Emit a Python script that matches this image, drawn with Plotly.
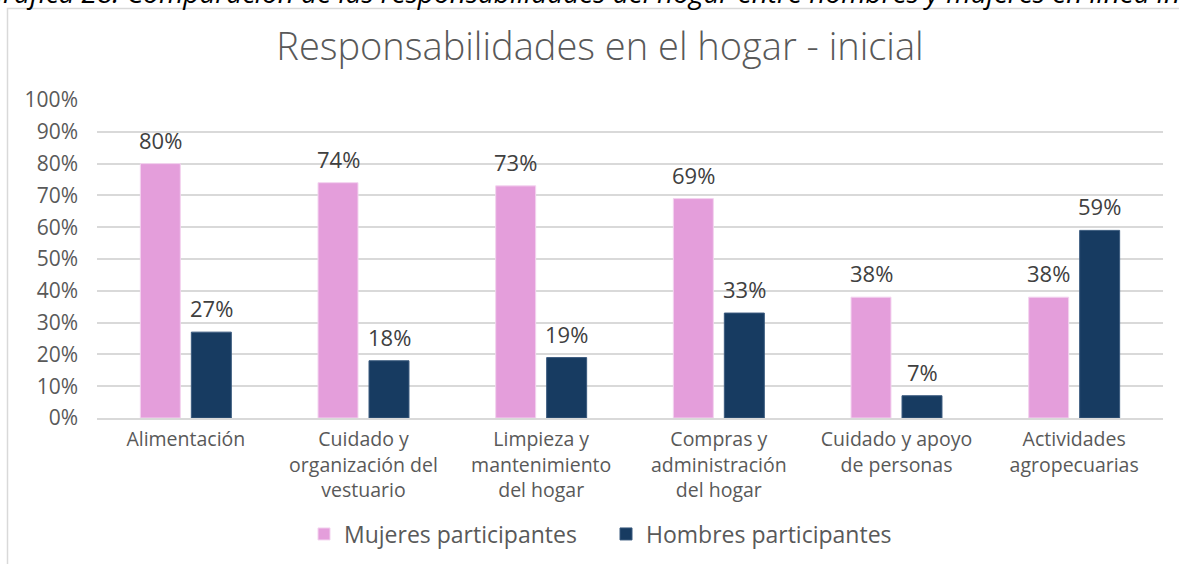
import plotly.graph_objects as go

categories = ["Alimentación", "Cuidado y<br>organización del<br>vestuario", "Limpieza y<br>mantenimiento<br>del hogar",
              "Compras y<br>administración<br>del hogar", "Cuidado y apoyo<br>de personas", "Actividades<br>agropecuarias"]
mujeres = [80, 74, 73, 69, 38, 38]
hombres = [27, 18, 19, 33, 7, 59]
series_names = ["Mujeres participantes", "Hombres participantes"]
y_ticks = [0, 10, 20, 30, 40, 50, 60, 70, 80, 90, 100]

PINK = "#E49EDB"
NAVY = "#173B61"
FONT = "'Open Sans', sans-serif"
GRAY = "#595959"

# body margin removed via post_script, so figure coordinates = page coordinates
W, H = 1179, 564
PX0, PX1, PY0, PY1 = 97, 1163, 100, 418  # plot area in px


def px(xp):  # page x -> paper x
    return (xp - PX0) / (PX1 - PX0)


def py(yp):  # page y -> paper y
    return (PY1 - yp) / (PY1 - PY0)


fig = go.Figure()
fig.add_trace(go.Bar(x=categories, y=mujeres, name=series_names[0], marker=dict(color=PINK, line=dict(color="#F3D3EF", width=1))))
fig.add_trace(go.Bar(x=categories, y=hombres, name=series_names[1], marker=dict(color=NAVY, line=dict(color="#3A5A7E", width=1))))

annotations = []
for vals, shift in ((mujeres, -25.5), (hombres, 25.5)):
    for c, v in zip(categories, vals):
        annotations.append(dict(x=c, y=v, xref="x", yref="y", text=f"{v}%", showarrow=False,
                                xshift=shift, yshift=24, yanchor="middle",
                                font=dict(family=FONT, size=22, color="#404040")))

# clipped caption at top
annotations.append(dict(xref="paper", yref="paper", x=px(-18), y=py(13),
                        xanchor="left", yanchor="bottom", showarrow=False,
                        text="<i>Gráfica 28. Comparación de las responsabilidades del hogar entre hombres y mujeres en línea inicial</i>",
                        font=dict(family="'Open Sans', sans-serif", size=28, color="#000000")))

fig.update_layout(
    width=W, height=H,
    margin=dict(l=PX0, r=W - PX1, t=PY0, b=H - PY1, autoexpand=False),
    paper_bgcolor="white", plot_bgcolor="white",
    barmode="group", bargap=0.426, bargroupgap=0.216,
    title=dict(text="Responsabilidades en el hogar - inicial", x=600 / W, xanchor="center",
               y=1 - 47 / H, yanchor="middle", xref="container", yref="container",
               font=dict(family=FONT, size=38, color=GRAY, weight=300)),
    font=dict(family=FONT, color=GRAY),
    showlegend=True,
    legend=dict(orientation="h", x=px(606), xanchor="center", y=py(534), yanchor="middle",
                font=dict(family=FONT, size=23, color=GRAY), itemwidth=30, traceorder="normal",
                entrywidth=257, entrywidthmode="pixels"),
    annotations=annotations,
    shapes=[dict(type="rect", xref="paper", yref="paper", x0=px(7.5), x1=1.2,
                 y0=-1.0, y1=py(8.5), line=dict(color="#D9D9D9", width=1.5), layer="below")],
)
fig.update_yaxes(range=[0, 100], tickvals=y_ticks, ticktext=[f"{t}%" for t in y_ticks],
                 showgrid=True, gridcolor="#D9D9D9", gridwidth=1.5, zeroline=False, showline=False,
                 ticklabelstandoff=18, tickfont=dict(family=FONT, size=21, color=GRAY), fixedrange=True)
fig.update_xaxes(showline=True, linecolor="#D9D9D9", linewidth=1.5, ticks="", ticklabelstandoff=3,
                 tickfont=dict(family=FONT, size=19.5, color=GRAY), tickangle=0, fixedrange=True)

fig.write_html("out.html", config={"displayModeBar": False},
               post_script="document.body.style.margin='0';document.body.style.overflow='hidden';")
